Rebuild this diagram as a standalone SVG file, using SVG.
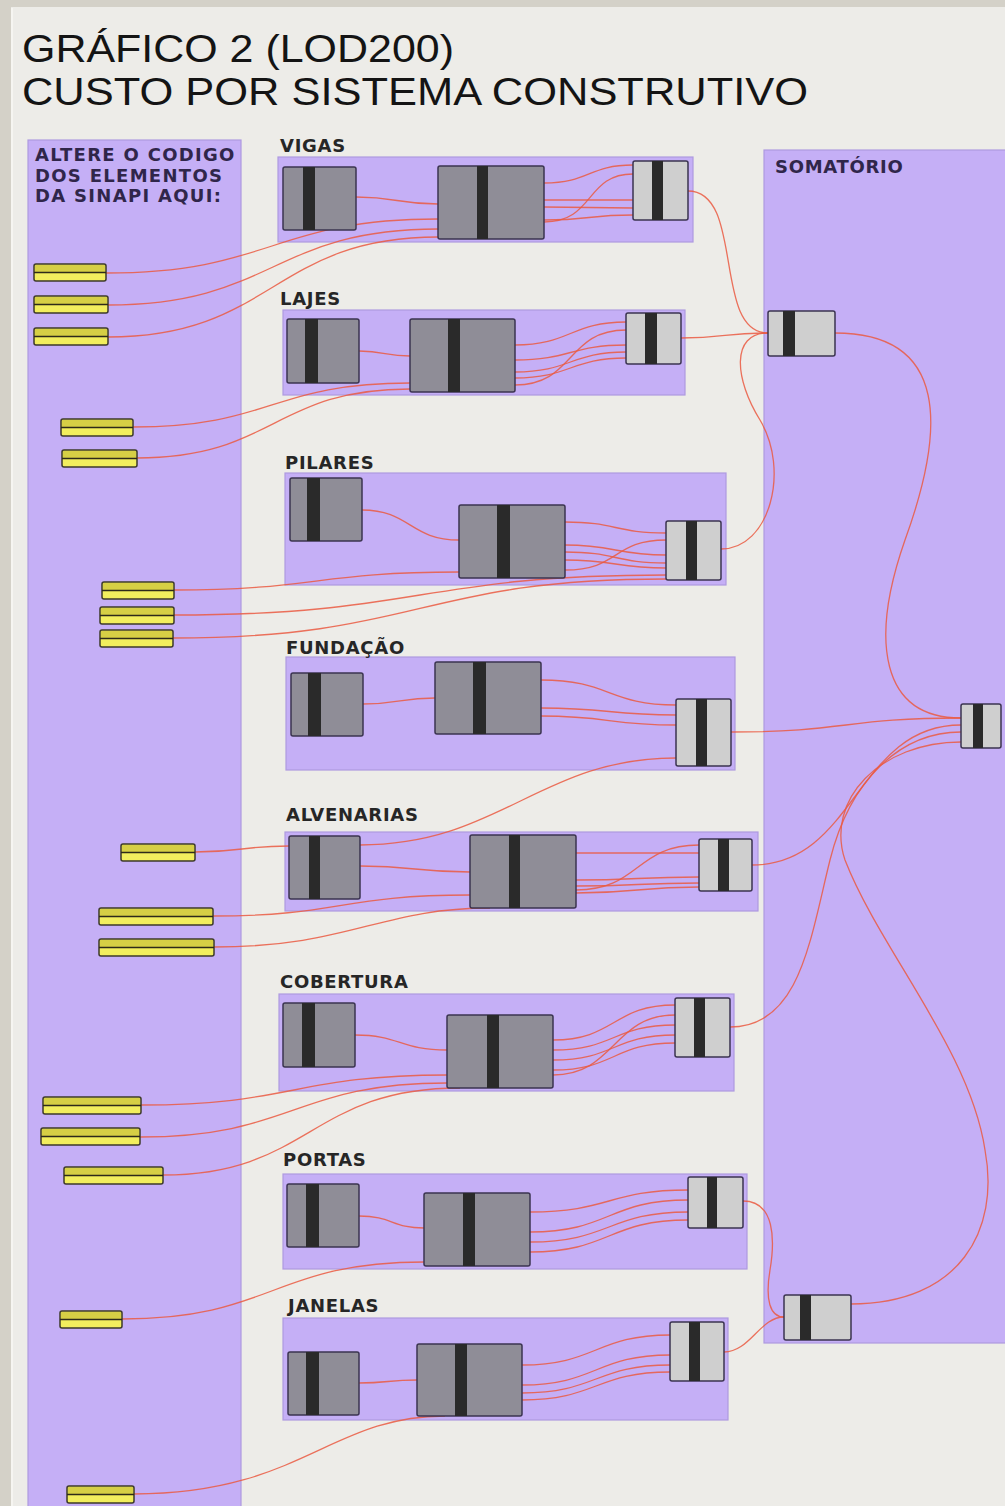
<svg xmlns="http://www.w3.org/2000/svg" width="1005" height="1506" viewBox="0 0 1005 1506">
<style>
.grp{fill:#c5aff6;stroke:#ae9adf;stroke-width:1.2}
.nd{fill:#8f8d97;stroke:#3b3450;stroke-width:1.5}
.nl{fill:#cfcfcf;stroke:#3b3450;stroke-width:1.5}
.st{fill:#2a2a2a}
.w{fill:none;stroke:#ea5a42;stroke-width:1.3;opacity:0.85}
.lbl{font-family:"DejaVu Sans",sans-serif;font-weight:bold;font-size:18px;letter-spacing:0.7px;fill:#262626}
.plbl{font-family:"DejaVu Sans",sans-serif;font-weight:bold;font-size:18px;letter-spacing:1.3px;fill:#30264a}
.title{font-family:"Liberation Sans",Arial,sans-serif;font-size:38px;fill:#141414}
.sl{fill:#f2ee5e;stroke:#3d3a2a;stroke-width:1.5}
.slt{fill:#d6cf45}
.slm{stroke:#2d2a1a;stroke-width:1.6}
</style>
<rect x="0" y="0" width="1005" height="1506" fill="#edece8"/>
<rect x="0" y="0" width="1005" height="7" fill="#d4d1c8"/>
<rect x="0" y="0" width="11" height="1506" fill="#d4d1c8"/>
<line x1="12" y1="8" x2="12" y2="1506" stroke="#f6f5f1" stroke-width="2"/>

<text class="title" x="22" y="62" textLength="432" lengthAdjust="spacingAndGlyphs">GRÁFICO 2 (LOD200)</text>
<text class="title" x="22" y="104.5" textLength="786" lengthAdjust="spacingAndGlyphs">CUSTO POR SISTEMA CONSTRUTIVO</text>

<g id="panel-sinapi">
<rect class="grp" x="28" y="140" width="213" height="1375"/>
<text class="plbl"><tspan x="35" y="161">ALTERE O CODIGO</tspan><tspan x="35" y="182">DOS ELEMENTOS</tspan><tspan x="35" y="202">DA SINAPI AQUI:</tspan></text>
</g>
<g id="panel-somatorio">
<rect class="grp" x="764" y="150" width="250" height="1193"/>
<text class="lbl" x="775" y="173" style="fill:#30264a">SOMATÓRIO</text>
</g>

<g id="grp-vigas"><rect class="grp" x="278" y="157" width="415" height="85"/><text class="lbl" x="280" y="152">VIGAS</text></g>
<g id="grp-lajes"><rect class="grp" x="283" y="310" width="402" height="85"/><text class="lbl" x="280" y="305">LAJES</text></g>
<g id="grp-pilares"><rect class="grp" x="285" y="473" width="441" height="112"/><text class="lbl" x="285" y="469">PILARES</text></g>
<g id="grp-fundacao"><rect class="grp" x="286" y="657" width="449" height="113"/><text class="lbl" x="286" y="654">FUNDAÇÃO</text></g>
<g id="grp-alvenarias"><rect class="grp" x="285" y="832" width="473" height="79"/><text class="lbl" x="286" y="821">ALVENARIAS</text></g>
<g id="grp-cobertura"><rect class="grp" x="279" y="994" width="455" height="97"/><text class="lbl" x="280" y="988">COBERTURA</text></g>
<g id="grp-portas"><rect class="grp" x="283" y="1174" width="464" height="95"/><text class="lbl" x="283" y="1166">PORTAS</text></g>
<g id="grp-janelas"><rect class="grp" x="283" y="1318" width="445" height="102"/><text class="lbl" x="288" y="1312">JANELAS</text></g>

<g id="connectors">
<!-- VIGAS -->
<path class="w" d="M356 197 C397 197 397 204 438 204"/>
<path class="w" d="M106 273 C272 273 272 219 438 219"/>
<path class="w" d="M108 305 C274 305 272 229 438 229"/>
<path class="w" d="M108 337 C273 337 273 237 438 237"/>
<path class="w" d="M544 183 C590 183 588 165 633 165"/>
<path class="w" d="M544 200 C590 200 588 200 633 200"/>
<path class="w" d="M544 207 C590 207 588 208 633 208"/>
<path class="w" d="M544 220 C590 220 588 215 633 215"/>
<path class="w" d="M544 222 C595 222 585 174 633 174"/>
<path class="w" d="M688 191 C745 191 712 333 768 333"/>
<!-- LAJES -->
<path class="w" d="M359 351 C385 351 385 356 410 356"/>
<path class="w" d="M133 427 C272 427 272 383 410 383"/>
<path class="w" d="M137 458 C274 458 274 389 410 389"/>
<path class="w" d="M515 345 C570 345 571 322 626 322"/>
<path class="w" d="M515 360 C570 360 571 345 626 345"/>
<path class="w" d="M515 372 C570 372 571 352 626 352"/>
<path class="w" d="M515 378 C570 378 571 358 626 358"/>
<path class="w" d="M515 385 C575 385 566 330 626 330"/>
<path class="w" d="M681 338 C725 338 725 333 768 333"/>
<!-- PILARES -->
<path class="w" d="M362 510 C410 510 410 540 459 540"/>
<path class="w" d="M174 590 C316 590 316 572 459 572"/>
<path class="w" d="M174 615 C420 615 420 575 666 575"/>
<path class="w" d="M173 638 C420 638 420 579 666 579"/>
<path class="w" d="M565 522 C615 522 616 533 666 533"/>
<path class="w" d="M565 545 C615 545 616 555 666 555"/>
<path class="w" d="M565 552 C615 552 616 563 666 563"/>
<path class="w" d="M565 560 C615 560 616 568 666 568"/>
<path class="w" d="M565 570 C620 570 612 540 666 540"/>
<path class="w" d="M721 549 C770 549 790 470 760 420 C735 380 730 333 768 333"/>
<!-- FUNDACAO -->
<path class="w" d="M363 704 C400 704 400 698 435 698"/>
<path class="w" d="M541 680 C610 680 608 705 676 705"/>
<path class="w" d="M541 708 C610 708 608 715 676 715"/>
<path class="w" d="M541 716 C610 716 608 725 676 725"/>
<path class="w" d="M360 845 C500 845 540 758 676 758"/>
<path class="w" d="M731 732 C846 732 846 718 961 718"/>
<!-- ALVENARIAS -->
<path class="w" d="M195 852 C242 852 242 846 289 846"/>
<path class="w" d="M360 866 C415 866 415 872 470 872"/>
<path class="w" d="M213 916 C340 916 340 895 470 895"/>
<path class="w" d="M214 947 C350 947 380 908 490 908"/>
<path class="w" d="M576 853 C637 853 638 853 699 853"/>
<path class="w" d="M576 880 C637 880 638 877 699 877"/>
<path class="w" d="M576 886 C637 886 638 883 699 883"/>
<path class="w" d="M576 890 C640 890 635 845 699 845"/>
<path class="w" d="M576 893 C637 893 638 887 699 887"/>
<path class="w" d="M752 865 C856 865 856 725 961 725"/>
<!-- COBERTURA -->
<path class="w" d="M355 1035 C400 1035 400 1050 447 1050"/>
<path class="w" d="M141 1105 C294 1105 294 1075 447 1075"/>
<path class="w" d="M140 1137 C294 1137 294 1083 447 1083"/>
<path class="w" d="M163 1175 C310 1175 310 1088 460 1088"/>
<path class="w" d="M553 1040 C615 1040 613 1005 675 1005"/>
<path class="w" d="M553 1050 C615 1050 613 1025 675 1025"/>
<path class="w" d="M553 1060 C615 1060 613 1035 675 1035"/>
<path class="w" d="M553 1070 C615 1070 613 1043 675 1043"/>
<path class="w" d="M553 1075 C615 1075 613 1015 675 1015"/>
<path class="w" d="M730 1027 C800 1027 810 940 830 860 C850 780 900 732 961 732"/>
<!-- PORTAS -->
<path class="w" d="M359 1216 C392 1216 392 1228 424 1228"/>
<path class="w" d="M122 1319 C273 1319 273 1262 424 1262"/>
<path class="w" d="M530 1212 C610 1212 608 1190 688 1190"/>
<path class="w" d="M530 1232 C610 1232 608 1200 688 1200"/>
<path class="w" d="M530 1242 C610 1242 608 1212 688 1212"/>
<path class="w" d="M530 1252 C610 1252 608 1220 688 1220"/>
<path class="w" d="M743 1201 C775 1201 775 1240 770 1270 C765 1300 770 1317 784 1317"/>
<!-- JANELAS -->
<path class="w" d="M359 1383 C388 1383 388 1380 417 1380"/>
<path class="w" d="M134 1494 C300 1494 330 1416 445 1416"/>
<path class="w" d="M522 1365 C596 1365 596 1335 670 1335"/>
<path class="w" d="M522 1385 C596 1385 596 1355 670 1355"/>
<path class="w" d="M522 1393 C596 1393 596 1365 670 1365"/>
<path class="w" d="M522 1400 C596 1400 596 1372 670 1372"/>
<path class="w" d="M724 1352 C750 1352 760 1317 784 1317"/>
<!-- SOMATORIO -->
<path class="w" d="M835 333 C950 333 945 430 905 540 C870 640 880 718 961 718"/>
<path class="w" d="M851 1304 C960 1304 1000 1230 985 1150 C970 1050 880 950 845 860 C825 800 880 742 961 742"/>
</g>

<g id="sliders">
<g id="sl1"><rect class="sl" x="34" y="264" width="72" height="17" rx="2"/><rect class="slt" x="35" y="265" width="70" height="7"/><line class="slm" x1="34" y1="272.5" x2="106" y2="272.5"/></g>
<g id="sl2"><rect class="sl" x="34" y="296" width="74" height="17" rx="2"/><rect class="slt" x="35" y="297" width="72" height="7"/><line class="slm" x1="34" y1="304.5" x2="108" y2="304.5"/></g>
<g id="sl3"><rect class="sl" x="34" y="328" width="74" height="17" rx="2"/><rect class="slt" x="35" y="329" width="72" height="7"/><line class="slm" x1="34" y1="336.5" x2="108" y2="336.5"/></g>
<g id="sl4"><rect class="sl" x="61" y="419" width="72" height="17" rx="2"/><rect class="slt" x="62" y="420" width="70" height="7"/><line class="slm" x1="61" y1="427.5" x2="133" y2="427.5"/></g>
<g id="sl5"><rect class="sl" x="62" y="450" width="75" height="17" rx="2"/><rect class="slt" x="63" y="451" width="73" height="7"/><line class="slm" x1="62" y1="458.5" x2="137" y2="458.5"/></g>
<g id="sl6"><rect class="sl" x="102" y="582" width="72" height="17" rx="2"/><rect class="slt" x="103" y="583" width="70" height="7"/><line class="slm" x1="102" y1="590.5" x2="174" y2="590.5"/></g>
<g id="sl7"><rect class="sl" x="100" y="607" width="74" height="17" rx="2"/><rect class="slt" x="101" y="608" width="72" height="7"/><line class="slm" x1="100" y1="615.5" x2="174" y2="615.5"/></g>
<g id="sl8"><rect class="sl" x="100" y="630" width="73" height="17" rx="2"/><rect class="slt" x="101" y="631" width="71" height="7"/><line class="slm" x1="100" y1="638.5" x2="173" y2="638.5"/></g>
<g id="sl9"><rect class="sl" x="121" y="844" width="74" height="17" rx="2"/><rect class="slt" x="122" y="845" width="72" height="7"/><line class="slm" x1="121" y1="852.5" x2="195" y2="852.5"/></g>
<g id="sl10"><rect class="sl" x="99" y="908" width="114" height="17" rx="2"/><rect class="slt" x="100" y="909" width="112" height="7"/><line class="slm" x1="99" y1="916.5" x2="213" y2="916.5"/></g>
<g id="sl11"><rect class="sl" x="99" y="939" width="115" height="17" rx="2"/><rect class="slt" x="100" y="940" width="113" height="7"/><line class="slm" x1="99" y1="947.5" x2="214" y2="947.5"/></g>
<g id="sl12"><rect class="sl" x="43" y="1097" width="98" height="17" rx="2"/><rect class="slt" x="44" y="1098" width="96" height="7"/><line class="slm" x1="43" y1="1105.5" x2="141" y2="1105.5"/></g>
<g id="sl13"><rect class="sl" x="41" y="1128" width="99" height="17" rx="2"/><rect class="slt" x="42" y="1129" width="97" height="7"/><line class="slm" x1="41" y1="1136.5" x2="140" y2="1136.5"/></g>
<g id="sl14"><rect class="sl" x="64" y="1167" width="99" height="17" rx="2"/><rect class="slt" x="65" y="1168" width="97" height="7"/><line class="slm" x1="64" y1="1175.5" x2="163" y2="1175.5"/></g>
<g id="sl15"><rect class="sl" x="60" y="1311" width="62" height="17" rx="2"/><rect class="slt" x="61" y="1312" width="60" height="7"/><line class="slm" x1="60" y1="1319.5" x2="122" y2="1319.5"/></g>
<g id="sl16"><rect class="sl" x="67" y="1486" width="67" height="17" rx="2"/><rect class="slt" x="68" y="1487" width="65" height="7"/><line class="slm" x1="67" y1="1494.5" x2="134" y2="1494.5"/></g>
</g>

<g id="vigas-a"><rect class="nd" x="283" y="167" width="73" height="63" rx="2"/><rect class="st" x="303" y="167" width="12" height="63"/></g>
<g id="vigas-b"><rect class="nd" x="438" y="166" width="106" height="73" rx="2"/><rect class="st" x="477" y="166" width="11" height="73"/></g>
<g id="vigas-c"><rect class="nl" x="633" y="161" width="55" height="59" rx="2"/><rect class="st" x="652" y="161" width="11" height="59"/></g>
<g id="lajes-a"><rect class="nd" x="287" y="319" width="72" height="64" rx="2"/><rect class="st" x="305" y="319" width="13" height="64"/></g>
<g id="lajes-b"><rect class="nd" x="410" y="319" width="105" height="73" rx="2"/><rect class="st" x="448" y="319" width="12" height="73"/></g>
<g id="lajes-c"><rect class="nl" x="626" y="313" width="55" height="51" rx="2"/><rect class="st" x="645" y="313" width="12" height="51"/></g>
<g id="pilares-a"><rect class="nd" x="290" y="478" width="72" height="63" rx="2"/><rect class="st" x="307" y="478" width="13" height="63"/></g>
<g id="pilares-b"><rect class="nd" x="459" y="505" width="106" height="73" rx="2"/><rect class="st" x="497" y="505" width="13" height="73"/></g>
<g id="pilares-c"><rect class="nl" x="666" y="521" width="55" height="59" rx="2"/><rect class="st" x="686" y="521" width="11" height="59"/></g>
<g id="fundacao-a"><rect class="nd" x="291" y="673" width="72" height="63" rx="2"/><rect class="st" x="308" y="673" width="13" height="63"/></g>
<g id="fundacao-b"><rect class="nd" x="435" y="662" width="106" height="72" rx="2"/><rect class="st" x="473" y="662" width="13" height="72"/></g>
<g id="fundacao-c"><rect class="nl" x="676" y="699" width="55" height="67" rx="2"/><rect class="st" x="696" y="699" width="11" height="67"/></g>
<g id="alvenarias-a"><rect class="nd" x="289" y="836" width="71" height="63" rx="2"/><rect class="st" x="309" y="836" width="11" height="63"/></g>
<g id="alvenarias-b"><rect class="nd" x="470" y="835" width="106" height="73" rx="2"/><rect class="st" x="509" y="835" width="11" height="73"/></g>
<g id="alvenarias-c"><rect class="nl" x="699" y="839" width="53" height="52" rx="2"/><rect class="st" x="718" y="839" width="11" height="52"/></g>
<g id="cobertura-a"><rect class="nd" x="283" y="1003" width="72" height="64" rx="2"/><rect class="st" x="302" y="1003" width="13" height="64"/></g>
<g id="cobertura-b"><rect class="nd" x="447" y="1015" width="106" height="73" rx="2"/><rect class="st" x="487" y="1015" width="12" height="73"/></g>
<g id="cobertura-c"><rect class="nl" x="675" y="998" width="55" height="59" rx="2"/><rect class="st" x="694" y="998" width="11" height="59"/></g>
<g id="portas-a"><rect class="nd" x="287" y="1184" width="72" height="63" rx="2"/><rect class="st" x="306" y="1184" width="13" height="63"/></g>
<g id="portas-b"><rect class="nd" x="424" y="1193" width="106" height="73" rx="2"/><rect class="st" x="463" y="1193" width="12" height="73"/></g>
<g id="portas-c"><rect class="nl" x="688" y="1177" width="55" height="51" rx="2"/><rect class="st" x="707" y="1177" width="10" height="51"/></g>
<g id="janelas-a"><rect class="nd" x="288" y="1352" width="71" height="63" rx="2"/><rect class="st" x="306" y="1352" width="13" height="63"/></g>
<g id="janelas-b"><rect class="nd" x="417" y="1344" width="105" height="72" rx="2"/><rect class="st" x="455" y="1344" width="12" height="72"/></g>
<g id="janelas-c"><rect class="nl" x="670" y="1322" width="54" height="59" rx="2"/><rect class="st" x="689" y="1322" width="11" height="59"/></g>
<g id="soma-1"><rect class="nl" x="768" y="311" width="67" height="45" rx="2"/><rect class="st" x="783" y="311" width="12" height="45"/></g>
<g id="soma-2"><rect class="nl" x="961" y="704" width="40" height="44" rx="2"/><rect class="st" x="973" y="704" width="10" height="44"/></g>
<g id="soma-3"><rect class="nl" x="784" y="1295" width="67" height="45" rx="2"/><rect class="st" x="800" y="1295" width="11" height="45"/></g>
</svg>
